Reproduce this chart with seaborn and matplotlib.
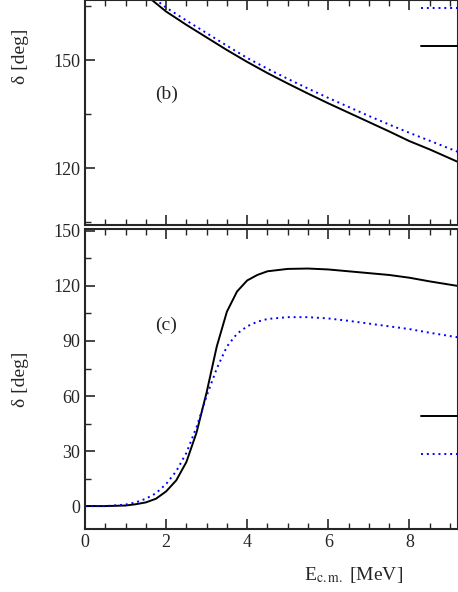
import pandas as pd
import seaborn as sb
import matplotlib.pyplot as plt
from matplotlib.lines import Line2D
from matplotlib.ticker import MultipleLocator

# panel (b)
b_energy = [1.65, 2.0, 2.5, 3.0, 3.5, 4.0, 4.5, 5.0, 5.5, 6.0, 6.5, 7.0, 7.5, 8.0, 8.5, 9.2]
b_solid = [166.7, 163.5, 159.8, 156.3, 152.8, 149.5, 146.4, 143.5, 140.7, 138.0, 135.4, 132.8, 130.2, 127.5, 125.2, 121.7]
b_dotted = [167.6, 164.6, 161.0, 157.5, 154.0, 150.6, 147.6, 144.8, 142.1, 139.5, 137.0, 134.5, 132.1, 129.8, 127.6, 124.5]

# panel (c)
c_energy = [0.0, 0.5, 1.0, 1.25, 1.5, 1.75, 2.0, 2.25, 2.5, 2.75, 3.0, 3.25, 3.5, 3.75,
            4.0, 4.25, 4.5, 5.0, 5.5, 6.0, 6.5, 7.0, 7.5, 8.0, 8.5, 9.2]
c_solid = [0, 0, 0.3, 1, 2, 4, 8, 14, 24, 40, 62, 87, 106, 117,
           123, 126, 128, 129.3, 129.5, 129, 128, 127, 126, 124.5, 122.5, 120]
c_dotted = [0, 0, 0.8, 2, 4, 7, 12, 19, 29, 43, 60, 75, 87, 94,
            98, 100.5, 102, 103, 103, 102.3, 101, 99.5, 98, 96.5, 94.5, 92]

sb.set_theme(style="ticks")
plt.rcParams["font.family"] = ["Liberation Serif", "DejaVu Serif"]
plt.rcParams["mathtext.fontset"] = "stix"

fig = plt.figure(figsize=(4.58, 5.92), dpi=100)
ax_b = fig.add_axes([0.1856, 0.620, 0.8144, 0.380])
ax_c = fig.add_axes([0.1856, 0.1064, 0.8144, 0.5066])

dots = (0, (1, 2))

for ax, xv, ys, yd in [(ax_b, b_energy, b_solid, b_dotted),
                       (ax_c, c_energy, c_solid, c_dotted)]:
    df = pd.DataFrame({"E": xv, "solid": ys, "dotted": yd})
    sb.lineplot(data=df, x="E", y="solid", ax=ax, color="black", lw=1.4)
    sb.lineplot(data=df, x="E", y="dotted", ax=ax, color="blue", lw=1.4, linestyle=dots)
    ax.set_xlim(0, 9.2)
    ax.xaxis.set_major_locator(MultipleLocator(2))
    ax.xaxis.set_minor_locator(MultipleLocator(0.5))
    ax.yaxis.set_major_locator(MultipleLocator(30))
    ax.yaxis.set_minor_locator(MultipleLocator(15))
    ax.tick_params(which="both", direction="in", top=True, labelsize=13)
    ax.tick_params(which="major", length=7, width=1.2)
    ax.tick_params(which="minor", length=4, width=1.0)
    for s in ax.spines.values():
        s.set_linewidth(1.5)
    ax.set_xlabel("")
    ax.set_ylabel("\u03b4 [deg]", fontsize=14)

ax_b.set_ylim(104.2, 166.7)
ax_b.set_xticklabels([])
ax_b.text(1.73, 140.6, "(b)", fontsize=14, ha="left", va="center")
ax_b.yaxis.set_label_coords(-0.15, 0.75)
ax_b.legend([Line2D([], [], color="blue", lw=1.4, linestyle=dots),
             Line2D([], [], color="black", lw=1.4)], [" ", " "],
            loc="upper left", bbox_to_anchor=(0.865, 1.05), frameon=False,
            handlelength=4.2, labelspacing=1.6, fontsize=11)

ax_c.set_ylim(-12.5, 151)
ax_c.text(1.73, 98.7, "(c)", fontsize=14, ha="left", va="center")
ax_c.yaxis.set_label_coords(-0.15, 0.5)
ax_c.set_xlabel(r"E$_{\rm c.m.}$ [MeV]", fontsize=14)
ax_c.xaxis.set_label_coords(0.72, -0.12)
ax_c.legend([Line2D([], [], color="black", lw=1.4),
             Line2D([], [], color="blue", lw=1.4, linestyle=dots)], [" ", " "],
            loc="upper left", bbox_to_anchor=(0.865, 0.44), frameon=False,
            handlelength=4.2, labelspacing=1.6, fontsize=11)

fig.savefig("out.png", dpi=100)
